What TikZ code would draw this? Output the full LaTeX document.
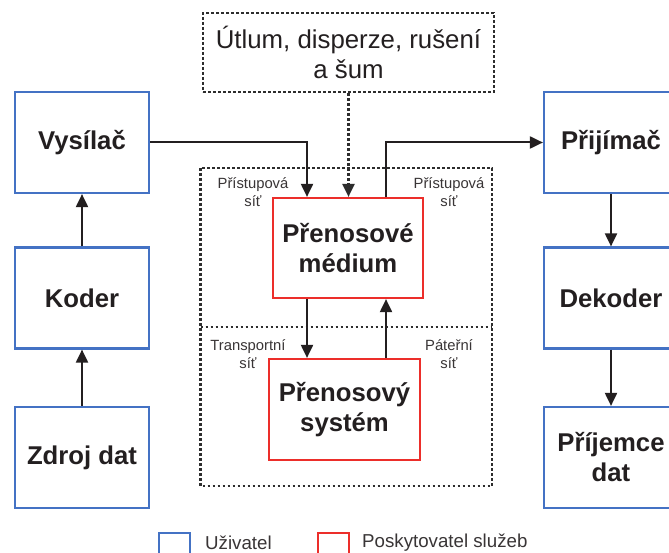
\documentclass[tikz,border=0pt]{standalone}
\usepackage{fontspec}
\setmainfont{Liberation Sans}
\usetikzlibrary{arrows.meta,calc}
\definecolor{userblue}{RGB}{68,114,196}
\definecolor{provred}{RGB}{236,46,42}
\definecolor{ink}{RGB}{35,31,32}
\definecolor{dotgray}{RGB}{45,45,45}
\tikzset{
  userbox/.style={draw=userblue,line width=2.2pt,minimum width=134pt,minimum height=101pt,
    inner sep=0pt,align=center,font=\fontsize{25.7}{30}\selectfont\bfseries,text=ink},
  provbox/.style={draw=provred,line width=2.2pt,minimum width=150pt,minimum height=100pt,
    inner sep=0pt,align=center,font=\fontsize{25.7}{30}\selectfont\bfseries,text=ink},
  dotline/.style={draw=dotgray,line width=2.2pt,dash pattern=on 2.6pt off 2.4pt},
  flow/.style={draw=ink,line width=2pt,-{Triangle[length=13pt,width=12pt]}},
  netlabel/.style={align=center,inner sep=0pt,font=\fontsize{14.8}{18}\selectfont,text=ink!90},
  legbox/.style={line width=2pt,minimum width=31pt,minimum height=31pt,inner sep=0pt,anchor=north west},
  legtext/.style={anchor=west,inner sep=0pt,font=\fontsize{18.7}{22}\selectfont,text=ink!90}
}
\begin{document}
\begin{tikzpicture}[x=1pt,y=-1pt]
  \useasboundingbox (0,0) rectangle (669,553);
  \clip (0,0) rectangle (669,553);
  \fill[white] (0,0) rectangle (669,553);

  % network areas around the provider boxes
  \draw[dotline] (200.5,168) rectangle (492,486);
  \draw[dotline] (200.5,327) -- (492,327);

  % user side
  \node[userbox] (vys) at (82,142.5) {Vysílač};
  \node[userbox] (kod) at (82,298) {Koder};
  \node[userbox] (zdroj) at (82,457.5) {Zdroj dat};
  \node[userbox] (prij) at (611,142.5) {Přijímač};
  \node[userbox] (dek) at (611,298) {Dekoder};
  \node[userbox] (prijd) at (611,457.5) {Příjemce\\dat};

  % provider side
  \node[provbox] (med) at (348,248) {Přenosové\\médium};
  \node[provbox,minimum width=151pt,minimum height=101pt] (sys) at (344.5,409.5) {Přenosový\\systém};

  % disturbances
  \node[dotline,minimum width=291pt,minimum height=79pt,inner sep=0pt,align=center,
        font=\fontsize{25.8}{30}\selectfont,text=ink] (noise) at (348.5,52.5)
        {Útlum, disperze, rušení\\a šum};

  % network labels
  \node[netlabel] (accL) at (253,192) {Přístupová\\síť};
  \node[netlabel] (accR) at (449,192) {Přístupová\\síť};
  \node[netlabel] (trans) at (248,354) {Transportní\\síť};
  \node[netlabel] (core) at (449,354) {Páteřní\\síť};

  % connection points on the medium and system boxes
  \coordinate (medIn) at ($(med.north)+(-41,0)$);
  \coordinate (medOut) at ($(med.north)+(38,0)$);
  \coordinate (medDown) at ($(med.south)+(-41,0)$);
  \coordinate (medUp) at ($(med.south)+(38,0)$);

  % signal flow
  \draw[flow] (zdroj.north) -- (kod.south);
  \draw[flow] (kod.north) -- (vys.south);
  \draw[flow] (vys.east) -| (medIn);
  \draw[flow,dotline] (noise.south) -- (noise.south |- med.north);
  \draw[flow] (medOut) |- (prij.west);
  \draw[flow] (medDown) -- (medDown |- sys.north);
  \draw[flow] (medUp |- sys.north) -- (medUp);
  \draw[flow] (prij.south) -- (dek.north);
  \draw[flow] (dek.south) -- (prijd.north);

  % legend
  \node[legbox,draw=userblue] (legU) at (158,532) {};
  \node[legtext] (legUt) at (205,543) {Uživatel};
  \node[legbox,draw=provred] (legP) at (317,532) {};
  \node[legtext] (legPt) at (362,543) {Poskytovatel služeb};
\end{tikzpicture}
\end{document}
